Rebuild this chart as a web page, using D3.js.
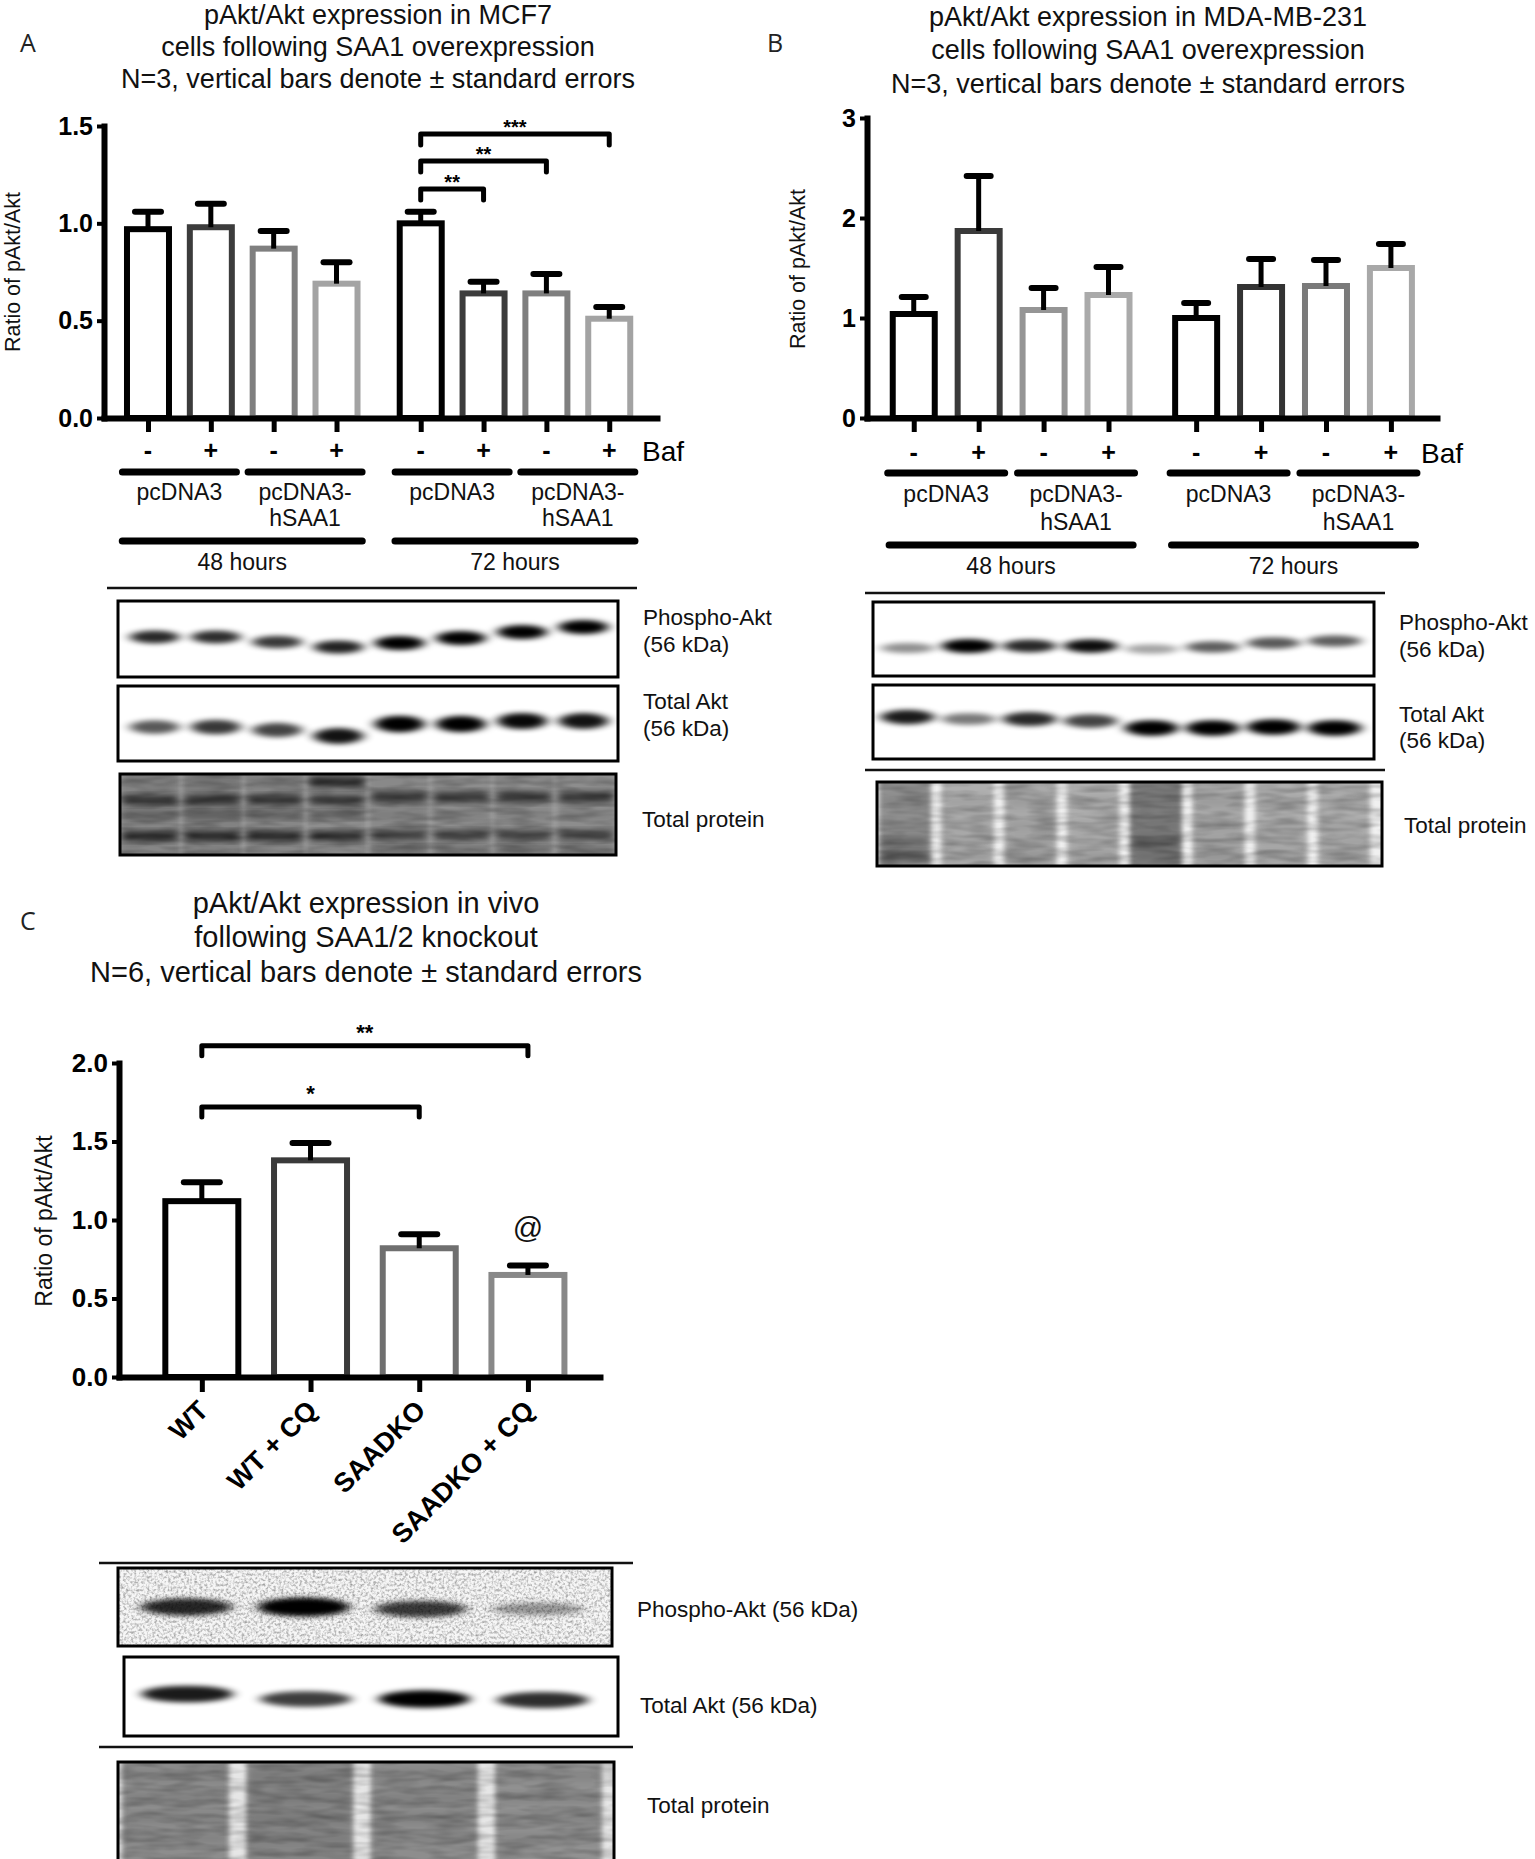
<!DOCTYPE html>
<html><head><meta charset="utf-8">
<script src="https://cdn.jsdelivr.net/npm/d3@7"></script>
<style>body{margin:0;background:#fff}svg{display:block}</style>
</head><body>
<script>
// ================= DATA =================
const panelATitle = ["pAkt/Akt expression in MCF7", "cells following SAA1 overexpression", "N=3, vertical bars denote \u00b1 standard errors"];
const panelBTitle = ["pAkt/Akt expression in MDA-MB-231", "cells following SAA1 overexpression", "N=3, vertical bars denote \u00b1 standard errors"];
const panelCTitle = ["pAkt/Akt expression in vivo", "following SAA1/2 knockout", "N=6, vertical bars denote \u00b1 standard errors"];
const yAxisTitle = "Ratio of pAkt/Akt";

const bafLabels = ["-", "+", "-", "+", "-", "+", "-", "+"];
const plasmidLabels = [["pcDNA3"], ["pcDNA3-", "hSAA1"], ["pcDNA3"], ["pcDNA3-", "hSAA1"]];
const timeLabels = ["48 hours", "72 hours"];

const aMeans = [0.97, 0.98, 0.87, 0.69, 1.00, 0.64, 0.64, 0.51];
const aSem   = [0.09, 0.12, 0.09, 0.11, 0.06, 0.06, 0.10, 0.06];
const aTicks = [0, 0.5, 1.0, 1.5];
const aPairs = [[4, 5], [4, 6], [4, 7]];
const aPairLabels = ["**", "**", "***"];

const bMeans = [1.04, 1.87, 1.08, 1.23, 1.00, 1.31, 1.32, 1.50];
const bSem   = [0.17, 0.55, 0.22, 0.28, 0.15, 0.28, 0.26, 0.24];
const bTicks = [0, 1, 2, 3];

const cCategories = ["WT", "WT + CQ", "SAADKO", "SAADKO + CQ"];
const cMeans = [1.12, 1.38, 0.82, 0.65];
const cSem   = [0.12, 0.11, 0.09, 0.06];
const cTicks = [0, 0.5, 1.0, 1.5, 2.0];
const cPairs = [[0, 3], [0, 2]];
const cPairLabels = ["**", "*"];
const cMarkLabel = "@";

const blotLabelsAB = [["Phospho-Akt", "(56 kDa)"], ["Total Akt", "(56 kDa)"], ["Total protein"]];
const blotLabelsC = ["Phospho-Akt (56 kDa)", "Total Akt (56 kDa)", "Total protein"];

// western blot band darkness per lane (0..1)
const aPhospho   = [0.80, 0.78, 0.74, 0.82, 0.95, 0.95, 0.97, 0.97];
const aTotalAkt  = [0.62, 0.74, 0.70, 0.88, 0.97, 0.95, 0.92, 0.88];
const aTotalProt = [0.46, 0.48, 0.45, 0.42, 0.44, 0.42, 0.42, 0.42];
const bPhospho   = [0.42, 0.95, 0.80, 0.90, 0.34, 0.60, 0.62, 0.60];
const bTotalAkt  = [0.85, 0.50, 0.80, 0.70, 1.00, 1.00, 1.00, 1.00];
const bTotalProt = [0.40, 0.24, 0.27, 0.24, 0.50, 0.27, 0.24, 0.24];
const cPhospho   = [0.80, 1.00, 0.72, 0.35];
const cTotalAkt  = [0.85, 0.72, 0.95, 0.78];
const cTotalProt = [0.42, 0.46, 0.42, 0.40];

// ================= DRAWING =================
const FONT = '"Liberation Sans", Arial, Helvetica, sans-serif';
const W = 1535, H = 1859;
const svg = d3.select("body").append("svg").attr("width", W).attr("height", H);
svg.append("rect").attr("width", W).attr("height", H).attr("fill", "#fff");
const defs = svg.append("defs");

function blurFilter(id, sx, sy) {
  defs.append("filter").attr("id", id).attr("x", "-60%").attr("y", "-60%")
    .attr("width", "220%").attr("height", "220%")
    .append("feGaussianBlur").attr("stdDeviation", `${sx} ${sy}`);
}
blurFilter("bandBlur", 6, 2.5);
blurFilter("rowBlur", 4, 3.5);
blurFilter("laneBlur", 2.5, 3);
const nf = defs.append("filter").attr("id", "noise").attr("x", 0).attr("y", 0).attr("width", "100%").attr("height", "100%");
nf.append("feTurbulence").attr("type", "fractalNoise").attr("baseFrequency", "0.38").attr("numOctaves", 2).attr("seed", 5).attr("result", "t");
nf.append("feColorMatrix").attr("in", "t").attr("type", "matrix")
  .attr("values", "0 0 0 0 0  0 0 0 0 0  0 0 0 0 0  0.8 0 0 0 -0.33");
const mf = defs.append("filter").attr("id", "mottle").attr("x", 0).attr("y", 0).attr("width", "100%").attr("height", "100%");
mf.append("feTurbulence").attr("type", "fractalNoise").attr("baseFrequency", "0.03 0.14").attr("numOctaves", 2).attr("seed", 11).attr("result", "t");
mf.append("feColorMatrix").attr("in", "t").attr("type", "matrix")
  .attr("values", "0 0 0 0 0  0 0 0 0 0  0 0 0 0 0  0.45 0 0 0 -0.16");

function txt(g, x, y, s, o = {}) {
  return g.append("text").attr("x", x).attr("y", y).text(s)
    .attr("font-family", o.family || FONT).attr("font-size", o.size || 23)
    .attr("font-weight", o.weight || "normal").attr("text-anchor", o.anchor || "start")
    .attr("fill", o.fill || "#111");
}
function title(lines, cx, baselines, size) {
  lines.forEach((l, i) => txt(svg, cx, baselines[i], l, { size, anchor: "middle" }));
}
function ylab(x, y, s, size) {
  svg.append("text").attr("transform", `translate(${x},${y}) rotate(-90)`)
    .attr("text-anchor", "middle").attr("font-family", FONT).attr("font-size", size)
    .attr("fill", "#111").text(s);
}
function panelLetter(x, y, s) {
  txt(svg, x, y, s, { family: '"Open Sans", "Noto Sans", sans-serif', size: 25, fill: "#222" });
}

function drawBars(x, y, slots, means, sems, colors, barW, capW) {
  const g = svg.append("g");
  g.selectAll("rect").data(means).join("rect")
    .attr("x", (d, i) => x(slots[i]) - barW / 2).attr("y", d => y(d))
    .attr("width", barW).attr("height", d => y(0) - y(d))
    .attr("fill", "#fff").attr("stroke", (d, i) => colors[i]).attr("stroke-width", 6);
  g.selectAll("line.err").data(means).join("line").attr("class", "err")
    .attr("x1", (d, i) => x(slots[i])).attr("x2", (d, i) => x(slots[i]))
    .attr("y1", d => y(d)).attr("y2", (d, i) => y(d + sems[i]))
    .attr("stroke", "#000").attr("stroke-width", 5);
  g.selectAll("line.cap").data(means).join("line").attr("class", "cap")
    .attr("x1", (d, i) => x(slots[i]) - capW / 2).attr("x2", (d, i) => x(slots[i]) + capW / 2)
    .attr("y1", (d, i) => y(d + sems[i])).attr("y2", (d, i) => y(d + sems[i]))
    .attr("stroke", "#000").attr("stroke-width", 6).attr("stroke-linecap", "round");
}
function yAxis(y, xPos, ticks, fmt, size) {
  const a = svg.append("g").attr("transform", `translate(${xPos},0)`)
    .call(d3.axisLeft(y).tickValues(ticks).tickFormat(fmt).tickSize(7).tickSizeOuter(0).tickPadding(4));
  a.attr("font-family", FONT).attr("font-size", size).attr("font-weight", "bold");
  a.select(".domain").attr("stroke", "#000").attr("stroke-width", 6).attr("stroke-linecap", "square");
  a.selectAll(".tick line").attr("stroke", "#000").attr("stroke-width", 4);
  a.selectAll(".tick text").attr("fill", "#000");
}
function xAxis(x, yPos, ticks, len) {
  const a = svg.append("g").attr("transform", `translate(0,${yPos})`)
    .call(d3.axisBottom(x).tickValues(ticks).tickFormat("").tickSize(len).tickSizeOuter(0));
  a.select(".domain").attr("stroke", "#000").attr("stroke-width", 6).attr("stroke-linecap", "square");
  a.selectAll(".tick line").attr("stroke", "#000").attr("stroke-width", 5);
  return a;
}
function brackets(x, y, pairs, labels, levels, hook, starSize, starOff) {
  const g = svg.append("g");
  pairs.forEach((p, i) => {
    const x1 = x(p[0]), x2 = x(p[1]), yb = y(levels[i]);
    g.append("path").attr("d", `M${x1},${yb + hook}V${yb}H${x2}V${yb + hook}`)
      .attr("fill", "none").attr("stroke", "#000").attr("stroke-width", 5)
      .attr("stroke-linecap", "round").attr("stroke-linejoin", "round");
    txt(g, (x1 + x2) / 2, yb + starOff, labels[i], { size: starSize, weight: "bold", anchor: "middle", fill: "#000" });
  });
}
function groupLabels(x, slots, o) {
  const g = svg.append("g");
  bafLabels.forEach((l, i) => txt(g, x(slots[i]), o.bafY, l, { size: 25, weight: "bold", anchor: "middle", fill: "#000" }));
  txt(g, o.bafX, o.bafY + 2, "Baf", { size: 28, fill: "#000" });
  plasmidLabels.forEach((lab, k) => {
    const c = (x(slots[2 * k]) + x(slots[2 * k + 1])) / 2;
    g.append("line").attr("x1", c - o.half1).attr("x2", c + o.half1).attr("y1", o.line1Y).attr("y2", o.line1Y)
      .attr("stroke", "#000").attr("stroke-width", 7).attr("stroke-linecap", "round");
    lab.forEach((s, j) => txt(g, c, o.lab1Y[j], s, { size: 23, anchor: "middle" }));
  });
  timeLabels.forEach((s, k) => {
    const c = (x(slots[4 * k]) + x(slots[4 * k + 3])) / 2;
    g.append("line").attr("x1", c - o.half2).attr("x2", c + o.half2).attr("y1", o.line2Y).attr("y2", o.line2Y)
      .attr("stroke", "#000").attr("stroke-width", 7).attr("stroke-linecap", "round");
    txt(g, c, o.lab2Y, s, { size: 23, anchor: "middle" });
  });
}
function hline(x1, x2, y, w) {
  svg.append("line").attr("x1", x1).attr("x2", x2).attr("y1", y).attr("y2", y)
    .attr("stroke", "#111").attr("stroke-width", w || 2.5);
}

let clipN = 0;
function blotBase(o) {
  const w = o.x1 - o.x0, h = o.y1 - o.y0, id = "clip" + (clipN++);
  defs.append("clipPath").attr("id", id).append("rect").attr("x", o.x0).attr("y", o.y0).attr("width", w).attr("height", h);
  const g = svg.append("g").attr("clip-path", `url(#${id})`);
  g.append("rect").attr("x", o.x0).attr("y", o.y0).attr("width", w).attr("height", h).attr("fill", o.bg || "#fff");
  if (o.noise) g.append("rect").attr("x", o.x0).attr("y", o.y0).attr("width", w).attr("height", h).attr("filter", "url(#noise)");
  const lane = d3.scaleBand().domain(d3.range(o.values.length)).range(o.laneRange).paddingInner(o.pad || 0);
  return { g, lane, w, h };
}
function blotBorder(o) {
  svg.append("rect").attr("x", o.x0).attr("y", o.y0).attr("width", o.x1 - o.x0).attr("height", o.y1 - o.y0)
    .attr("fill", "none").attr("stroke", "#000").attr("stroke-width", 3);
}
function bandBlot(o) {
  const { g, lane } = blotBase(o);
  g.selectAll("ellipse").data(o.values).join("ellipse")
    .attr("cx", (d, i) => lane(i) + lane.bandwidth() / 2)
    .attr("cy", (d, i) => o.bandY + (o.shifts ? o.shifts[i] : 0))
    .attr("rx", o.rx).attr("ry", d => o.ry * (0.6 + 0.6 * d))
    .attr("fill", "#000").attr("opacity", d => Math.min(1, d * 1.05)).attr("filter", "url(#bandBlur)");
  blotBorder(o);
}
const grayScale = d3.interpolateRgb("#dcdcdc", "#202020");
function proteinBlot(o) {
  const { g, lane, w, h } = blotBase(o);
  g.selectAll("rect.lane").data(o.values).join("rect").attr("class", "lane")
    .attr("x", (d, i) => lane(i)).attr("y", o.y0 - 6).attr("width", lane.bandwidth()).attr("height", o.y1 - o.y0 + 12)
    .attr("fill", d => grayScale(d)).attr("filter", "url(#laneBlur)");
  o.values.forEach((d, i) => {
    o.rows(i).forEach(r => {
      g.append("rect").attr("x", lane(i) + 3).attr("y", o.y0 + r[0] - r[2] / 2)
        .attr("width", lane.bandwidth() - 6).attr("height", r[2])
        .attr("fill", "#000").attr("opacity", r[1]).attr("filter", "url(#rowBlur)");
    });
  });
  if (o.mottle) g.append("rect").attr("x", o.x0).attr("y", o.y0).attr("width", w).attr("height", h).attr("filter", "url(#mottle)");
  blotBorder(o);
}

// ---------- Panel A ----------
panelLetter(20, 52, "A");
title(panelATitle, 378, [24, 56, 88], 27);
ylab(20, 272, yAxisTitle, 21.5);
const xA = d3.scaleLinear().domain([-0.7, 8.1]).range([104, 657]);
const yA = d3.scaleLinear().domain([0, 1.5]).range([418, 126]);
const slotsA = aMeans.map((d, i) => i + (i >= 4 ? 0.34 : 0));
const colA = ["#000", "#3c3c3c", "#7f7f7f", "#a3a3a3", "#000", "#3c3c3c", "#7f7f7f", "#a3a3a3"];
drawBars(xA, yA, slotsA, aMeans, aSem, colA, 42, 26);
xAxis(xA, 418, slotsA, 14);
yAxis(yA, 104, aTicks, d3.format(".1f"), 25);
brackets(v => xA(slotsA[v]), yA, aPairs, aPairLabels, [1.176, 1.32, 1.459], 11, 20, 0);
groupLabels(xA, slotsA, { bafY: 459, bafX: 642, line1Y: 472, half1: 57, lab1Y: [500, 526], line2Y: 541, half2: 120, lab2Y: 570 });
hline(107, 637, 588);
bandBlot({ x0: 118, x1: 618, y0: 601, y1: 677, values: aPhospho, laneRange: [124, 614], bandY: 640, rx: 25, ry: 6,
  shifts: [-3, -3, 2, 7, 3, -2, -8, -13] });
bandBlot({ x0: 118, x1: 618, y0: 686, y1: 761, values: aTotalAkt, laneRange: [124, 614], bandY: 727, rx: 25, ry: 7,
  shifts: [0, 0, 3, 9, -3, -3, -6, -6] });
proteinBlot({ x0: 120, x1: 616, y0: 774, y1: 855, values: aTotalProt, laneRange: [120, 616], pad: 0.04, bg: "#a8a8a8", mottle: true,
  rows: i => i < 4 ? [[26, 0.75, 8], [41, 0.4, 6], [62, 0.85, 8], [8, i === 3 ? 0.8 : 0.1, 9]] : [[23, 0.7, 9], [41, 0.12, 6], [61, 0.65, 8], [76, 0.3, 6]] });
txt(svg, 643, 625, blotLabelsAB[0][0], { size: 22.5 });
txt(svg, 643, 652, blotLabelsAB[0][1], { size: 22.5 });
txt(svg, 643, 709, blotLabelsAB[1][0], { size: 22.5 });
txt(svg, 643, 736, blotLabelsAB[1][1], { size: 22.5 });
txt(svg, 642, 827, blotLabelsAB[2][0], { size: 22.5 });

// ---------- Panel B ----------
panelLetter(767, 52, "B");
title(panelBTitle, 1148, [26, 59, 93], 27);
ylab(805, 269, yAxisTitle, 21.5);
const xB = d3.scaleLinear().domain([-0.72, 8.06]).range([867, 1437]);
const yB = d3.scaleLinear().domain([0, 3]).range([418, 118]);
const slotsB = bMeans.map((d, i) => i + (i >= 4 ? 0.35 : 0));
const colB = ["#000", "#3a3a3a", "#959595", "#aaaaaa", "#000", "#333", "#7a7a7a", "#a8a8a8"];
drawBars(xB, yB, slotsB, bMeans, bSem, colB, 42, 24);
xAxis(xB, 418, slotsB, 14);
yAxis(yB, 867, bTicks, d3.format("d"), 25);
groupLabels(xB, slotsB, { bafY: 461, bafX: 1421, line1Y: 473, half1: 58.5, lab1Y: [502, 530], line2Y: 545, half2: 122, lab2Y: 574 });
hline(865, 1385, 593);
bandBlot({ x0: 873, x1: 1374, y0: 602, y1: 676, values: bPhospho, laneRange: [877, 1365], bandY: 646, rx: 27, ry: 6,
  shifts: [2, 0, 0, 0, 3, 1, -3, -5] });
bandBlot({ x0: 873, x1: 1374, y0: 685, y1: 759, values: bTotalAkt, laneRange: [877, 1365], bandY: 723, rx: 27, ry: 6.5,
  shifts: [-6, -4, -4, -2, 5, 5, 4, 5] });
hline(865, 1385, 770);
proteinBlot({ x0: 877, x1: 1382, y0: 782, y1: 866, values: bTotalProt, laneRange: [879, 1370], pad: 0.17, bg: "#f0f0f0", mottle: true,
  rows: i => [[20, 0.08, 10], [44, 0.08, 10], [60, i === 0 || i === 4 ? 0.3 : 0.08, 10], [74, i === 0 ? 0.5 : 0.14, 8]] });
txt(svg, 1399, 630, blotLabelsAB[0][0], { size: 22.5 });
txt(svg, 1399, 657, blotLabelsAB[0][1], { size: 22.5 });
txt(svg, 1399, 722, blotLabelsAB[1][0], { size: 22.5 });
txt(svg, 1399, 748, blotLabelsAB[1][1], { size: 22.5 });
txt(svg, 1404, 833, blotLabelsAB[2][0], { size: 22.5 });

// ---------- Panel C ----------
panelLetter(20, 930, "C");
title(panelCTitle, 366, [913, 947, 982], 29);
ylab(52, 1221, yAxisTitle, 23);
const xC = d3.scaleLinear().domain([-0.762, 3.663]).range([119, 600]);
const yC = d3.scaleLinear().domain([0, 2]).range([1377, 1063]);
const slotsC = cCategories.map((d, i) => i);
const colC = ["#000", "#3a3a3a", "#6f6f6f", "#888888"];
drawBars(xC, yC, slotsC, cMeans, cSem, colC, 73, 36);
xAxis(xC, 1377, slotsC, 15);
yAxis(yC, 119, cTicks, d3.format(".1f"), 26);
brackets(xC, yC, cPairs, cPairLabels, [2.11, 1.72], 10, 22, -6);
txt(svg, xC(3), yC(cMeans[3] + cSem[3]) - 28, cMarkLabel, { size: 30, anchor: "middle", fill: "#111" });
const gl = svg.append("g");
cCategories.forEach((c, i) => {
  gl.append("text").attr("transform", `translate(${xC(i) + 8},${1412}) rotate(-45)`)
    .attr("text-anchor", "end").attr("font-family", FONT).attr("font-weight", "bold")
    .attr("font-size", 27).attr("fill", "#000").text(c);
});
hline(99, 633, 1563);
bandBlot({ x0: 118, x1: 612, y0: 1568, y1: 1646, values: cPhospho, laneRange: [128, 596], bandY: 1607, rx: 46, ry: 8,
  bg: "#f6f6f6", noise: true, shifts: [0, 0, 2, 2] });
bandBlot({ x0: 124, x1: 618, y0: 1657, y1: 1736, values: cTotalAkt, laneRange: [128, 602], bandY: 1698, rx: 46, ry: 7.5,
  shifts: [-4, 1, 1, 2] });
hline(99, 633, 1747);
proteinBlot({ x0: 118, x1: 614, y0: 1762, y1: 1866, values: cTotalProt, laneRange: [122, 602], pad: 0.14, bg: "#e6e6e6", mottle: true,
  rows: i => [[14, 0.08, 10], [36, 0.1, 8], [56, 0.1, 8], [76, 0.08, 8]] });
txt(svg, 637, 1617, blotLabelsC[0], { size: 22.5 });
txt(svg, 640, 1713, blotLabelsC[1], { size: 22.5 });
txt(svg, 647, 1813, blotLabelsC[2], { size: 22.5 });
</script>
</body></html>
